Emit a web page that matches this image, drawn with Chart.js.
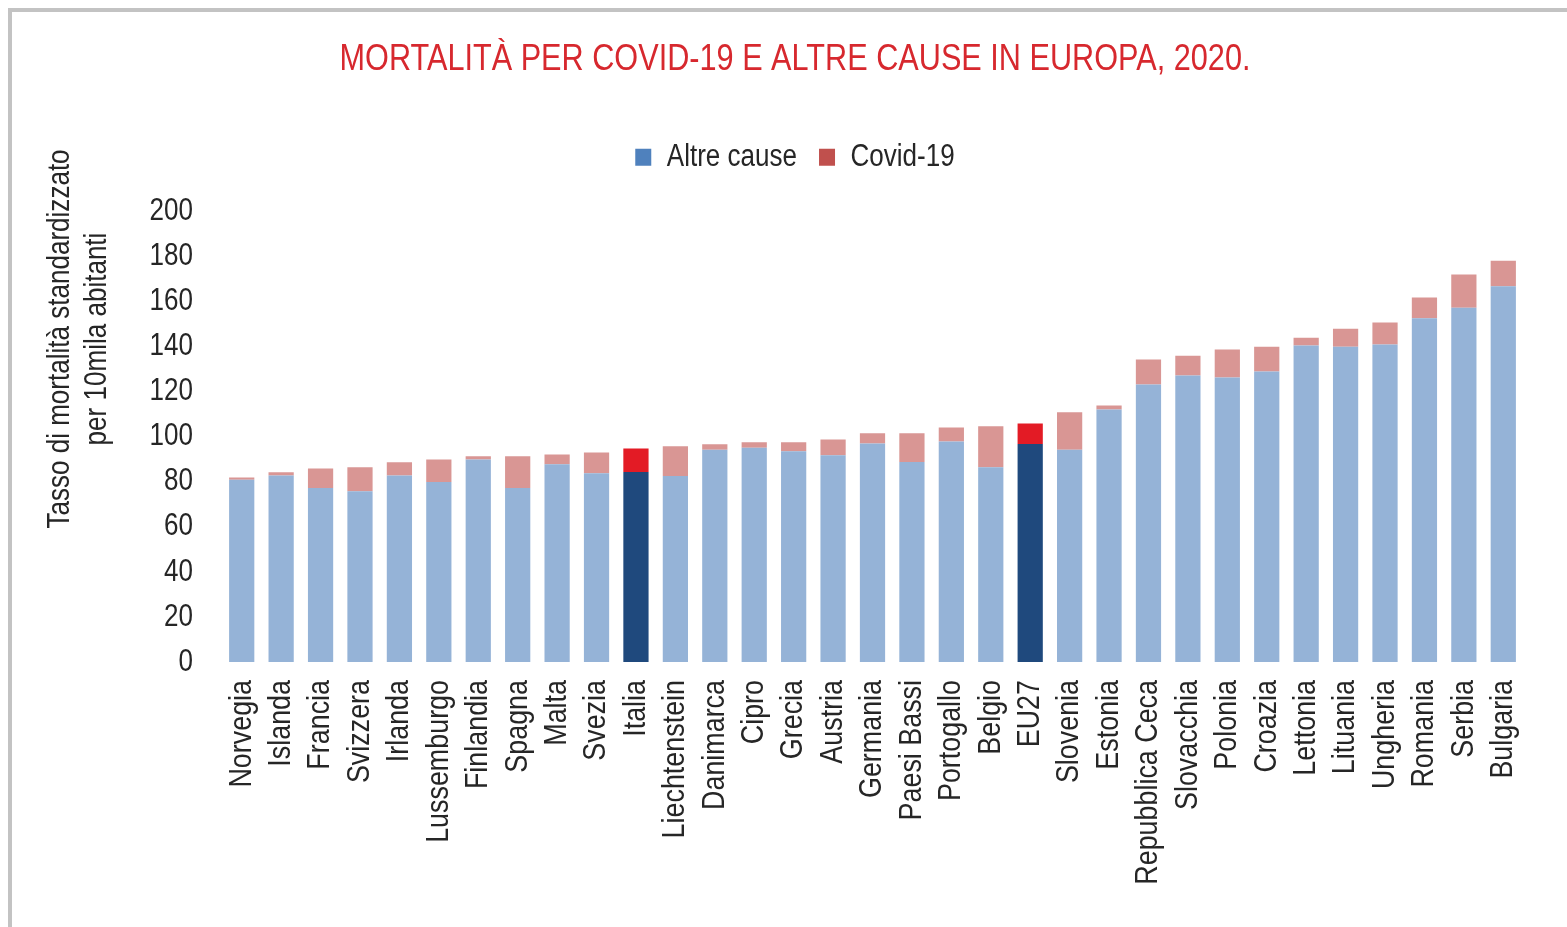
<!DOCTYPE html>
<html>
<head>
<meta charset="utf-8">
<script src="https://cdn.jsdelivr.net/npm/chart.js@4.4.0/dist/chart.umd.min.js"></script>
<style>
  html, body { margin: 0; padding: 0; background: #fff; overflow: hidden; }
  #frame { position: absolute; left: 8px; top: 8px; width: 2000px; height: 2000px;
           border-left: 4px solid #c3c3c3; border-top: 4px solid #c3c3c3; }
  #chart { position: absolute; left: 0; top: 0; }
</style>
</head>
<body>
<div id="frame"></div>
<canvas id="chart" width="1567" height="927"></canvas>
<script>
const FONT = "'Liberation Sans', Arial, sans-serif";
// the original uses a narrow face; squeeze the text horizontally to get there
const TEXT_SQUEEZE = 0.84;

const categories = ['Norvegia', 'Islanda', 'Francia', 'Svizzera', 'Irlanda', 'Lussemburgo', 'Finlandia',
    'Spagna', 'Malta', 'Svezia', 'Italia', 'Liechtenstein', 'Danimarca', 'Cipro', 'Grecia', 'Austria',
    'Germania', 'Paesi Bassi', 'Portogallo', 'Belgio', 'EU27', 'Slovenia', 'Estonia', 'Repubblica Ceca',
    'Slovacchia', 'Polonia', 'Croazia', 'Lettonia', 'Lituania', 'Ungheria', 'Romania', 'Serbia', 'Bulgaria'];

const altreCause = [81.0, 82.9, 77.3, 75.8, 82.9, 80.0, 90.0, 77.3, 87.9, 83.8, 84.4, 82.6, 94.3, 95.2,
    93.6, 91.8, 97.1, 88.8, 98.0, 86.5, 96.8, 94.3, 112.2, 123.3, 127.3, 126.4, 129.0, 140.6, 140.1,
    141.0, 152.7, 157.4, 166.9];

const covid19 = [1.0, 1.4, 8.7, 10.7, 5.8, 10.0, 1.4, 14.1, 4.3, 9.3, 10.5, 13.2, 2.4, 2.4, 4.0, 7.1,
    4.5, 12.8, 6.2, 18.2, 9.2, 16.6, 1.8, 11.1, 8.8, 12.4, 11.1, 3.5, 8.0, 9.8, 9.2, 14.7, 11.4];

const highlighted = ['Italia', 'EU27'];
const yTicks = [0, 20, 40, 60, 80, 100, 120, 140, 160, 180, 200];

const yTitleLines = ['Tasso di mortalità standardizzato', 'per 10mila abitanti'];

const canvas = document.getElementById('chart');
const c2d = canvas.getContext('2d');
const origFill = c2d.fillText.bind(c2d);
const origMeasure = c2d.measureText.bind(c2d);
c2d.fillText = function (text, x, y, maxWidth) {
    this.save();
    this.translate(x, y);
    this.scale(TEXT_SQUEEZE, 1);
    origFill(text, 0, 0);
    this.restore();
};
c2d.measureText = function (text) {
    const m = origMeasure(text);
    return {
        width: m.width * TEXT_SQUEEZE,
        actualBoundingBoxAscent: m.actualBoundingBoxAscent,
        actualBoundingBoxDescent: m.actualBoundingBoxDescent
    };
};

function barColor(light, dark) {
    return ctx => highlighted.includes(categories[ctx.dataIndex]) ? dark : light;
}

// extra space under the legend, before the plot
const legendSpacer = {
    id: 'legendSpacer',
    beforeInit(chart) {
        const fit = chart.legend.fit;
        chart.legend.fit = function () {
            fit.call(this);
            this.height += 29;
        };
    }
};

// two-line rotated y title, drawn where the original has it
const yTitle = {
    id: 'yTitle',
    afterDraw(chart) {
        const ctx = chart.ctx;
        ctx.save();
        ctx.fillStyle = '#262626';
        ctx.font = '31px ' + FONT;
        ctx.textAlign = 'center';
        ctx.textBaseline = 'middle';
        ctx.translate(60, 339);
        ctx.rotate(-Math.PI / 2);
        ctx.fillText(yTitleLines[0], 0, 0);
        ctx.fillText(yTitleLines[1], 0, 37);
        ctx.restore();
    }
};

new Chart(canvas, {
    type: 'bar',
    data: {
        labels: categories,
        datasets: [{
            label: 'Altre cause',
            data: altreCause,
            backgroundColor: barColor('#95b3d7', '#1f497d'),
            categoryPercentage: 1,
            barPercentage: 0.64
        }, {
            label: 'Covid-19',
            data: covid19,
            backgroundColor: barColor('#d99694', '#e31b25'),
            categoryPercentage: 1,
            barPercentage: 0.64
        }]
    },
    options: {
        responsive: false,
        animation: false,
        layout: { padding: { left: 67, right: 44, top: 0, bottom: 0 } },
        plugins: {
            title: {
                display: true,
                text: 'MORTALITÀ PER COVID-19 E ALTRE CAUSE IN EUROPA, 2020.',
                color: '#d7282e',
                font: { family: FONT, size: 36.5, weight: 'normal' },
                padding: { top: 38, bottom: 38 }
            },
            legend: {
                display: true,
                labels: {
                    generateLabels: chart => chart.data.datasets.map((ds, i) => ({
                        text: ds.label,
                        fillStyle: i === 0 ? '#4f81bd' : '#c0504d',
                        strokeStyle: 'transparent',
                        lineWidth: 0,
                        datasetIndex: i,
                        fontColor: '#262626'
                    })),
                    color: '#262626',
                    font: { family: FONT, size: 31 },
                    boxWidth: 16,
                    boxHeight: 17,
                    padding: 22
                }
            },
            tooltip: { enabled: false }
        },
        scales: {
            x: {
                stacked: true,
                grid: { display: false, drawTicks: false },
                border: { display: false },
                ticks: {
                    autoSkip: false,
                    maxRotation: 90,
                    minRotation: 90,
                    padding: 18,
                    color: '#262626',
                    font: { family: FONT, size: 32 }
                },
                afterFit: scale => { scale.height = 265; }
            },
            y: {
                stacked: true,
                min: 0,
                max: 200,
                grid: { display: false, drawTicks: false },
                border: { display: false },
                afterBuildTicks: scale => { scale.ticks = yTicks.map(v => ({ value: v })); },
                ticks: {
                    padding: 29,
                    color: '#262626',
                    font: { family: FONT, size: 31 }
                },
                afterFit: scale => { scale.width = 155; }
            }
        }
    },
    plugins: [legendSpacer, yTitle]
});
</script>
</body>
</html>
